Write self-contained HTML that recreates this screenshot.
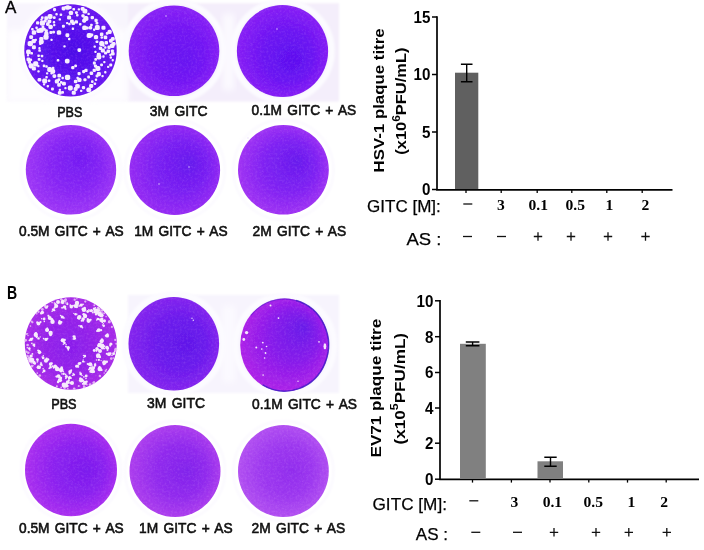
<!DOCTYPE html>
<html><head><meta charset="utf-8"><title>Plaque assay figure</title>
<style>
html,body{margin:0;padding:0;background:#fff;}
body{width:704px;height:550px;overflow:hidden;font-family:"Liberation Sans",sans-serif;}
svg{display:block;}
</style></head><body>
<svg width="704" height="550" viewBox="0 0 704 550">
<rect width="704" height="550" fill="#fff"/>
<g opacity="0.999">
<defs>
<radialGradient id="ga1" cx="50%" cy="50%" r="56%" fx="52%" fy="50%"><stop offset="0" stop-color="#4c0ee8"/><stop offset="0.5" stop-color="#5812ee"/><stop offset="1" stop-color="#6c1af0"/></radialGradient>
<radialGradient id="ga2" cx="50%" cy="50%" r="56%" fx="62%" fy="60%"><stop offset="0" stop-color="#6812f2"/><stop offset="0.5" stop-color="#7216f4"/><stop offset="1" stop-color="#8e26f6"/></radialGradient>
<radialGradient id="ga3" cx="50%" cy="50%" r="56%" fx="62%" fy="62%"><stop offset="0" stop-color="#5c10f0"/><stop offset="0.5" stop-color="#6c14f3"/><stop offset="1" stop-color="#8e24f6"/></radialGradient>
<radialGradient id="ga4" cx="50%" cy="50%" r="56%" fx="62%" fy="36%"><stop offset="0" stop-color="#741cf3"/><stop offset="0.5" stop-color="#8626f5"/><stop offset="1" stop-color="#a43cf7"/></radialGradient>
<radialGradient id="ga5" cx="50%" cy="50%" r="56%" fx="68%" fy="42%"><stop offset="0" stop-color="#661cee"/><stop offset="0.5" stop-color="#7a20f3"/><stop offset="1" stop-color="#9c30f4"/></radialGradient>
<radialGradient id="ga6" cx="50%" cy="50%" r="56%" fx="66%" fy="40%"><stop offset="0" stop-color="#681cee"/><stop offset="0.5" stop-color="#7e22f3"/><stop offset="1" stop-color="#a838f4"/></radialGradient>
<radialGradient id="gb1" cx="50%" cy="50%" r="56%" fx="50%" fy="55%"><stop offset="0" stop-color="#8a1eec"/><stop offset="0.5" stop-color="#9624ea"/><stop offset="1" stop-color="#ae30e8"/></radialGradient>
<radialGradient id="gb2" cx="50%" cy="50%" r="56%" fx="66%" fy="50%"><stop offset="0" stop-color="#6018ea"/><stop offset="0.5" stop-color="#6c1ced"/><stop offset="1" stop-color="#8a28ef"/></radialGradient>
<radialGradient id="gb3" cx="50%" cy="50%" r="56%" fx="72%" fy="30%"><stop offset="0" stop-color="#681aea"/><stop offset="0.5" stop-color="#881ceb"/><stop offset="1" stop-color="#b624e8"/></radialGradient>
<radialGradient id="gb4" cx="50%" cy="50%" r="56%" fx="68%" fy="50%"><stop offset="0" stop-color="#7c1cee"/><stop offset="0.5" stop-color="#8c22f0"/><stop offset="1" stop-color="#b234f0"/></radialGradient>
<radialGradient id="gb5" cx="50%" cy="50%" r="56%" fx="64%" fy="50%"><stop offset="0" stop-color="#8224ec"/><stop offset="0.5" stop-color="#922cee"/><stop offset="1" stop-color="#b444ee"/></radialGradient>
<radialGradient id="gb6" cx="50%" cy="50%" r="56%" fx="60%" fy="50%"><stop offset="0" stop-color="#922eee"/><stop offset="0.5" stop-color="#9e3af0"/><stop offset="1" stop-color="#b858f2"/></radialGradient>
<filter id="blur04" x="-10%" y="-10%" width="120%" height="120%"><feGaussianBlur stdDeviation="0.45"/></filter>
<filter id="blur06" x="-20%" y="-20%" width="140%" height="140%"><feGaussianBlur stdDeviation="0.55"/></filter>
<filter id="blur1" x="-20%" y="-20%" width="140%" height="140%"><feGaussianBlur stdDeviation="1.2"/></filter>
<filter id="blur3" x="-20%" y="-20%" width="140%" height="140%"><feGaussianBlur stdDeviation="3"/></filter>
<filter id="grain" x="0" y="0" width="100%" height="100%"><feTurbulence type="fractalNoise" baseFrequency="0.45" numOctaves="3" seed="7" result="n"/><feColorMatrix in="n" type="matrix" values="0 0 0 0 0.95  0 0 0 0 0.6  0 0 0 0 1  0 0 0 1.3 -0.55"/></filter>
<filter id="grainD" x="0" y="0" width="100%" height="100%"><feTurbulence type="fractalNoise" baseFrequency="0.4" numOctaves="3" seed="11" result="n"/><feColorMatrix in="n" type="matrix" values="0 0 0 0 0.2  0 0 0 0 0  0 0 0 0 0.75  0 0 0 1.4 -0.6"/></filter>
<clipPath id="wellclip">
<ellipse cx="70.5" cy="50.4" rx="45.900000000000006" ry="45.900000000000006"/>
<ellipse cx="174.0" cy="50.8" rx="45.0" ry="45.0"/>
<ellipse cx="282.5" cy="51.0" rx="45.300000000000004" ry="45.7"/>
<ellipse cx="71.0" cy="169.8" rx="44.900000000000006" ry="44.5"/>
<ellipse cx="174.8" cy="170.0" rx="45.0" ry="44.7"/>
<ellipse cx="283.4" cy="169.8" rx="45.1" ry="44.5"/>
<ellipse cx="70.8" cy="343.5" rx="45.7" ry="46.0"/>
<ellipse cx="173.8" cy="343.7" rx="45.0" ry="46.5"/>
<ellipse cx="284.6" cy="345.0" rx="44.1" ry="46.300000000000004"/>
<ellipse cx="71.0" cy="470.0" rx="45.7" ry="45.900000000000006"/>
<ellipse cx="175.0" cy="471.0" rx="45.2" ry="45.7"/>
<ellipse cx="283.4" cy="471.0" rx="45.1" ry="45.7"/>
</clipPath>
</defs>
<g filter="url(#blur1)">
<rect x="7" y="3.2" width="121" height="98" fill="#f8f5fd"/>
<rect x="128" y="3.2" width="211" height="98.3" fill="#f4eefb"/>
<rect x="128" y="295" width="211" height="98" fill="#f7f4fd"/>
</g>
<circle cx="70.5" cy="52" r="51" fill="#fefdff" filter="url(#blur3)"/>
<rect x="7" y="30" width="121" height="72" fill="#fefdff" filter="url(#blur3)"/>
<circle cx="174" cy="50.8" r="49.3" fill="none" stroke="#fcfbff" stroke-width="6" filter="url(#blur1)"/>
<circle cx="282.5" cy="51" r="49.3" fill="none" stroke="#fcfbff" stroke-width="6" filter="url(#blur1)"/>
<circle cx="173.8" cy="343.4" r="49.3" fill="none" stroke="#fcfbff" stroke-width="6" filter="url(#blur1)"/>
<circle cx="284.8" cy="345" r="49.3" fill="none" stroke="#fcfbff" stroke-width="6" filter="url(#blur1)"/>
<rect x="223" y="14" width="11" height="76" fill="#fcfaff" filter="url(#blur3)"/>
<rect x="223" y="306" width="12" height="76" fill="#fcfaff" filter="url(#blur3)"/>
<circle cx="70.5" cy="50.4" r="50" fill="none" stroke="#fbf9fe" stroke-width="2.5" filter="url(#blur1)"/>
<circle cx="71" cy="169.8" r="50" fill="none" stroke="#fbf9fe" stroke-width="2.5" filter="url(#blur1)"/>
<circle cx="174.8" cy="170" r="50" fill="none" stroke="#fbf9fe" stroke-width="2.5" filter="url(#blur1)"/>
<circle cx="283.4" cy="169.8" r="50" fill="none" stroke="#fbf9fe" stroke-width="2.5" filter="url(#blur1)"/>
<circle cx="71" cy="470" r="50" fill="none" stroke="#fbf9fe" stroke-width="2.5" filter="url(#blur1)"/>
<circle cx="175" cy="471" r="50" fill="none" stroke="#fbf9fe" stroke-width="2.5" filter="url(#blur1)"/>
<circle cx="283.4" cy="471" r="50" fill="none" stroke="#fbf9fe" stroke-width="2.5" filter="url(#blur1)"/>
<g filter="url(#blur04)">
<ellipse cx="70.5" cy="50.4" rx="46.2" ry="46.2" fill="url(#ga1)"/>
<ellipse cx="174.0" cy="50.8" rx="45.3" ry="45.3" fill="url(#ga2)"/>
<ellipse cx="282.5" cy="51.0" rx="45.6" ry="46.0" fill="url(#ga3)"/>
<ellipse cx="71.0" cy="169.8" rx="45.2" ry="44.8" fill="url(#ga4)"/>
<ellipse cx="174.8" cy="170.0" rx="45.3" ry="45.0" fill="url(#ga5)"/>
<ellipse cx="283.4" cy="169.8" rx="45.4" ry="44.8" fill="url(#ga6)"/>
<ellipse cx="70.8" cy="343.5" rx="46.0" ry="46.3" fill="url(#gb1)"/>
<ellipse cx="173.8" cy="343.7" rx="45.3" ry="46.8" fill="url(#gb2)"/>
<ellipse cx="284.6" cy="345.0" rx="44.4" ry="46.6" fill="url(#gb3)"/>
<ellipse cx="71.0" cy="470.0" rx="46.0" ry="46.2" fill="url(#gb4)"/>
<ellipse cx="175.0" cy="471.0" rx="45.5" ry="46.0" fill="url(#gb5)"/>
<ellipse cx="283.4" cy="471.0" rx="45.4" ry="46.0" fill="url(#gb6)"/>
<path d="M295.96 300.47 A43.9 46.1 0 1 1 262.65 384.92" fill="none" stroke="#3a1cc4" stroke-width="1.5" opacity="0.8"/>
<path d="M295.96 300.47 A43.9 46.1 0 0 0 250.97 315.37" fill="none" stroke="#4a1ccc" stroke-width="1.1" opacity="0.5"/>
</g>
<g clip-path="url(#wellclip)"><rect x="20" y="0" width="315" height="525" filter="url(#grain)" opacity="0.2"/><rect x="20" y="0" width="315" height="525" filter="url(#grainD)" opacity="0.16"/></g>
<g fill="#f6eefe" filter="url(#blur06)">
<rect x="61.6" y="6.4" width="4.0" height="4.0" rx="1.4"/>
<rect x="68.5" y="5.9" width="3.1" height="3.1" rx="1.1"/>
<rect x="72.4" y="7.9" width="2.7" height="2.7" rx="0.9"/>
<rect x="68.8" y="10.8" width="4.3" height="4.3" rx="1.5"/>
<rect x="82.5" y="8.7" width="4.9" height="4.9" rx="1.7"/>
<rect x="87.4" y="12.7" width="2.4" height="2.4" rx="0.9"/>
<rect x="81.4" y="14.2" width="3.2" height="3.2" rx="1.1"/>
<rect x="90.6" y="15.9" width="3.4" height="3.4" rx="1.2"/>
<rect x="94.4" y="18.8" width="3.3" height="3.3" rx="1.1"/>
<rect x="52.9" y="16.2" width="2.8" height="2.8" rx="1.0"/>
<rect x="58.6" y="18.2" width="2.4" height="2.4" rx="0.9"/>
<rect x="46.0" y="22.3" width="3.6" height="3.6" rx="1.3"/>
<rect x="48.4" y="24.7" width="4.4" height="4.4" rx="1.6"/>
<rect x="53.1" y="23.9" width="2.3" height="2.3" rx="0.8"/>
<rect x="41.0" y="16.3" width="2.6" height="2.6" rx="0.9"/>
<rect x="36.3" y="28.4" width="4.5" height="4.5" rx="1.6"/>
<rect x="31.7" y="30.3" width="4.4" height="4.4" rx="1.5"/>
<rect x="29.2" y="35.2" width="3.9" height="3.9" rx="1.3"/>
<rect x="34.6" y="38.7" width="2.3" height="2.3" rx="0.8"/>
<rect x="39.3" y="36.9" width="4.1" height="4.1" rx="1.4"/>
<rect x="43.4" y="34.5" width="5.2" height="5.2" rx="1.8"/>
<rect x="27.6" y="40.9" width="5.3" height="5.3" rx="1.9"/>
<rect x="31.9" y="45.3" width="4.0" height="4.0" rx="1.4"/>
<rect x="38.3" y="47.1" width="2.3" height="2.3" rx="0.8"/>
<rect x="26.1" y="49.6" width="4.6" height="4.6" rx="1.6"/>
<rect x="37.3" y="54.4" width="2.6" height="2.6" rx="0.9"/>
<rect x="26.5" y="57.5" width="3.8" height="3.8" rx="1.3"/>
<rect x="28.6" y="63.3" width="5.1" height="5.1" rx="1.8"/>
<rect x="31.9" y="66.6" width="4.0" height="4.0" rx="1.4"/>
<rect x="37.3" y="70.2" width="2.4" height="2.4" rx="0.8"/>
<rect x="42.7" y="64.5" width="2.7" height="2.7" rx="1.0"/>
<rect x="47.2" y="67.1" width="4.9" height="4.9" rx="1.7"/>
<rect x="50.3" y="72.0" width="2.4" height="2.4" rx="0.9"/>
<rect x="52.5" y="74.2" width="3.7" height="3.7" rx="1.3"/>
<rect x="57.4" y="78.2" width="3.0" height="3.0" rx="1.1"/>
<rect x="61.4" y="76.7" width="2.5" height="2.5" rx="0.9"/>
<rect x="37.6" y="77.9" width="3.7" height="3.7" rx="1.3"/>
<rect x="42.9" y="83.2" width="2.3" height="2.3" rx="0.8"/>
<rect x="46.6" y="85.0" width="2.4" height="2.4" rx="0.8"/>
<rect x="51.0" y="87.6" width="2.9" height="2.9" rx="1.0"/>
<rect x="58.7" y="88.8" width="2.3" height="2.3" rx="0.8"/>
<rect x="64.3" y="86.9" width="2.3" height="2.3" rx="0.8"/>
<rect x="73.9" y="79.8" width="3.5" height="3.5" rx="1.2"/>
<rect x="77.3" y="77.7" width="4.2" height="4.2" rx="1.5"/>
<rect x="75.1" y="83.9" width="4.7" height="4.7" rx="1.7"/>
<rect x="80.0" y="89.7" width="2.4" height="2.4" rx="0.8"/>
<rect x="83.4" y="78.2" width="3.1" height="3.1" rx="1.1"/>
<rect x="87.2" y="75.6" width="2.8" height="2.8" rx="1.0"/>
<rect x="89.6" y="71.4" width="3.6" height="3.6" rx="1.3"/>
<rect x="92.6" y="68.8" width="3.3" height="3.3" rx="1.1"/>
<rect x="95.4" y="66.1" width="5.0" height="5.0" rx="1.8"/>
<rect x="100.1" y="63.4" width="2.9" height="2.9" rx="1.0"/>
<rect x="103.2" y="61.0" width="2.3" height="2.3" rx="0.8"/>
<rect x="96.8" y="52.7" width="4.0" height="4.0" rx="1.4"/>
<rect x="109.6" y="56.3" width="2.4" height="2.4" rx="0.9"/>
<rect x="110.9" y="51.9" width="3.7" height="3.7" rx="1.3"/>
<rect x="107.4" y="45.6" width="3.3" height="3.3" rx="1.2"/>
<rect x="99.2" y="41.1" width="4.9" height="4.9" rx="1.7"/>
<rect x="104.5" y="40.9" width="3.5" height="3.5" rx="1.2"/>
<rect x="109.0" y="39.0" width="3.7" height="3.7" rx="1.3"/>
<rect x="95.6" y="40.4" width="2.7" height="2.7" rx="0.9"/>
<rect x="99.9" y="32.6" width="3.5" height="3.5" rx="1.2"/>
<rect x="105.8" y="32.1" width="2.6" height="2.6" rx="0.9"/>
<rect x="93.9" y="35.0" width="4.2" height="4.2" rx="1.5"/>
<rect x="88.8" y="26.1" width="3.3" height="3.3" rx="1.2"/>
<rect x="93.0" y="28.5" width="2.4" height="2.4" rx="0.8"/>
<rect x="90.1" y="23.7" width="2.6" height="2.6" rx="0.9"/>
<rect x="95.5" y="21.7" width="2.9" height="2.9" rx="1.0"/>
<rect x="101.4" y="25.7" width="4.1" height="4.1" rx="1.4"/>
<rect x="79.0" y="22.9" width="2.5" height="2.5" rx="0.9"/>
<rect x="67.1" y="15.6" width="4.0" height="4.0" rx="1.4"/>
<rect x="70.0" y="19.4" width="3.8" height="3.8" rx="1.3"/>
<rect x="71.7" y="27.6" width="2.4" height="2.4" rx="0.8"/>
<rect x="65.4" y="33.3" width="3.9" height="3.9" rx="1.4"/>
<rect x="68.0" y="37.8" width="2.4" height="2.4" rx="0.8"/>
<rect x="63.3" y="45.2" width="2.4" height="2.4" rx="0.8"/>
<rect x="77.5" y="48.3" width="3.6" height="3.6" rx="1.3"/>
<rect x="56.7" y="59.0" width="2.6" height="2.6" rx="0.9"/>
<rect x="64.9" y="58.8" width="4.7" height="4.7" rx="1.7"/>
<rect x="71.2" y="66.1" width="3.2" height="3.2" rx="1.1"/>
<rect x="74.2" y="64.4" width="2.8" height="2.8" rx="1.0"/>
<rect x="56.8" y="30.3" width="4.4" height="4.4" rx="1.5"/>
<rect x="50.4" y="38.7" width="2.3" height="2.3" rx="0.8"/>
<rect x="96.8" y="72.1" width="4.1" height="4.1" rx="1.4"/>
<rect x="101.4" y="74.9" width="2.3" height="2.3" rx="0.8"/>
<rect x="104.1" y="71.1" width="2.4" height="2.4" rx="0.9"/>
<rect x="83.3" y="16.0" width="5.1" height="5.1" rx="1.8"/>
<rect x="73.7" y="87.1" width="3.9" height="3.9" rx="1.4"/>
<rect x="91.0" y="80.3" width="2.6" height="2.6" rx="0.9"/>
<rect x="94.8" y="78.5" width="2.4" height="2.4" rx="0.8"/>
<rect x="39.8" y="20.5" width="5.2" height="5.2" rx="1.8"/>
<rect x="80.7" y="6.9" width="3.9" height="3.9" rx="1.4"/>
<rect x="65.5" y="5.3" width="4.5" height="4.5" rx="1.6"/>
<rect x="102.3" y="55.3" width="2.4" height="2.4" rx="0.9"/>
<rect x="103.6" y="35.5" width="3.7" height="3.7" rx="1.3"/>
<rect x="90.4" y="33.6" width="2.9" height="2.9" rx="1.0"/>
<rect x="40.7" y="54.7" width="2.6" height="2.6" rx="0.9"/>
<rect x="61.2" y="91.0" width="2.8" height="2.8" rx="1.0"/>
<rect x="71.4" y="21.4" width="3.7" height="3.7" rx="1.3"/>
<rect x="49.4" y="31.1" width="2.9" height="2.9" rx="1.0"/>
<rect x="110.9" y="49.4" width="3.0" height="3.0" rx="1.0"/>
<rect x="76.4" y="76.7" width="2.4" height="2.4" rx="0.8"/>
<rect x="109.9" y="43.5" width="4.5" height="4.5" rx="1.6"/>
<rect x="57.9" y="90.9" width="3.8" height="3.8" rx="1.3"/>
<rect x="31.5" y="38.9" width="4.4" height="4.4" rx="1.5"/>
<rect x="53.0" y="8.1" width="3.1" height="3.1" rx="1.1"/>
<rect x="50.6" y="69.1" width="4.6" height="4.6" rx="1.6"/>
<rect x="84.3" y="68.8" width="3.3" height="3.3" rx="1.2"/>
<rect x="57.2" y="83.1" width="3.6" height="3.6" rx="1.3"/>
<rect x="106.6" y="49.4" width="3.5" height="3.5" rx="1.2"/>
<rect x="54.8" y="79.3" width="4.2" height="4.2" rx="1.5"/>
<rect x="61.9" y="24.8" width="3.0" height="3.0" rx="1.0"/>
<rect x="93.5" y="45.4" width="2.4" height="2.4" rx="0.8"/>
<rect x="109.2" y="53.8" width="2.3" height="2.3" rx="0.8"/>
<rect x="45.3" y="75.9" width="2.5" height="2.5" rx="0.9"/>
<rect x="94.3" y="50.7" width="2.3" height="2.3" rx="0.8"/>
<rect x="86.4" y="87.5" width="4.8" height="4.8" rx="1.7"/>
<rect x="81.9" y="86.1" width="3.2" height="3.2" rx="1.1"/>
<rect x="107.5" y="29.8" width="4.2" height="4.2" rx="1.5"/>
<rect x="111.6" y="59.1" width="2.3" height="2.3" rx="0.8"/>
<rect x="36.0" y="21.3" width="3.2" height="3.2" rx="1.1"/>
<rect x="38.9" y="39.5" width="4.8" height="4.8" rx="1.7"/>
<rect x="57.4" y="73.8" width="3.7" height="3.7" rx="1.3"/>
<rect x="92.8" y="61.6" width="3.1" height="3.1" rx="1.1"/>
<rect x="82.1" y="70.0" width="3.2" height="3.2" rx="1.1"/>
<rect x="104.1" y="46.3" width="2.4" height="2.4" rx="0.8"/>
<rect x="45.3" y="65.3" width="2.5" height="2.5" rx="0.9"/>
<rect x="35.3" y="26.4" width="2.5" height="2.5" rx="0.9"/>
<rect x="37.7" y="57.9" width="2.9" height="2.9" rx="1.0"/>
<rect x="109.2" y="63.6" width="3.0" height="3.0" rx="1.0"/>
<rect x="82.2" y="25.4" width="4.7" height="4.7" rx="1.7"/>
<rect x="64.3" y="6.0" width="2.4" height="2.4" rx="0.9"/>
<rect x="93.6" y="82.4" width="2.6" height="2.6" rx="0.9"/>
<rect x="59.9" y="81.0" width="2.7" height="2.7" rx="0.9"/>
<rect x="102.2" y="44.2" width="2.5" height="2.5" rx="0.9"/>
<rect x="30.3" y="51.9" width="2.7" height="2.7" rx="0.9"/>
<rect x="38.3" y="49.2" width="2.6" height="2.6" rx="0.9"/>
<rect x="93.9" y="64.5" width="3.2" height="3.2" rx="1.1"/>
<rect x="77.7" y="8.3" width="2.3" height="2.3" rx="0.8"/>
<rect x="42.2" y="78.6" width="4.9" height="4.9" rx="1.7"/>
<rect x="75.0" y="11.2" width="2.9" height="2.9" rx="1.0"/>
<rect x="47.6" y="14.0" width="5.0" height="5.0" rx="1.8"/>
<rect x="62.0" y="81.7" width="3.9" height="3.9" rx="1.4"/>
<rect x="47.4" y="19.4" width="3.9" height="3.9" rx="1.4"/>
<rect x="104.0" y="51.4" width="3.2" height="3.2" rx="1.1"/>
<rect x="67.8" y="85.6" width="5.0" height="5.0" rx="1.8"/>
<rect x="29.7" y="58.6" width="2.4" height="2.4" rx="0.8"/>
<rect x="44.3" y="16.2" width="3.9" height="3.9" rx="1.4"/>
<rect x="47.7" y="79.4" width="2.7" height="2.7" rx="1.0"/>
<rect x="111.7" y="41.9" width="3.9" height="3.9" rx="1.4"/>
<rect x="89.1" y="83.9" width="4.1" height="4.1" rx="1.4"/>
<rect x="100.5" y="36.2" width="2.5" height="2.5" rx="0.9"/>
<rect x="55.3" y="13.0" width="2.5" height="2.5" rx="0.9"/>
<rect x="66.0" y="21.9" width="2.3" height="2.3" rx="0.8"/>
<rect x="76.0" y="13.9" width="2.6" height="2.6" rx="0.9"/>
<rect x="52.8" y="21.1" width="2.4" height="2.4" rx="0.8"/>
<rect x="43.7" y="19.5" width="3.0" height="3.0" rx="1.0"/>
<rect x="33.1" y="61.3" width="5.2" height="5.2" rx="1.8"/>
<rect x="52.1" y="30.7" width="2.9" height="2.9" rx="1.0"/>
<rect x="94.3" y="57.9" width="2.8" height="2.8" rx="1.0"/>
<rect x="77.5" y="72.0" width="3.2" height="3.2" rx="1.1"/>
<rect x="41.6" y="25.7" width="2.7" height="2.7" rx="0.9"/>
<rect x="71.7" y="90.7" width="4.1" height="4.1" rx="1.4"/>
<rect x="100.8" y="48.5" width="4.1" height="4.1" rx="1.4"/>
<rect x="51.9" y="66.8" width="2.5" height="2.5" rx="0.9"/>
<rect x="31.1" y="27.9" width="2.6" height="2.6" rx="0.9"/>
<rect x="82.2" y="18.8" width="3.9" height="3.9" rx="1.4"/>
<rect x="38.7" y="27.7" width="5.0" height="5.0" rx="1.8"/>
<rect x="110.9" y="36.9" width="3.8" height="3.8" rx="1.3"/>
<rect x="44.7" y="29.2" width="3.1" height="3.1" rx="1.1"/>
<rect x="86.7" y="32.9" width="5.2" height="5.2" rx="1.8"/>
<rect x="40.3" y="18.5" width="2.3" height="2.3" rx="0.8"/>
<rect x="46.0" y="72.3" width="2.3" height="2.3" rx="0.8"/>
<rect x="44.2" y="31.6" width="4.3" height="4.3" rx="1.5"/>
<rect x="95.5" y="74.4" width="3.0" height="3.0" rx="1.1"/>
<rect x="41.2" y="59.7" width="2.3" height="2.3" rx="0.8"/>
<rect x="74.6" y="20.2" width="3.4" height="3.4" rx="1.2"/>
<rect x="64.9" y="74.8" width="5.3" height="5.3" rx="1.8"/>
<rect x="98.8" y="46.6" width="3.4" height="3.4" rx="1.2"/>
<rect x="42.8" y="27.8" width="2.9" height="2.9" rx="1.0"/>
<rect x="68.2" y="22.8" width="2.4" height="2.4" rx="0.8"/>
<rect x="39.1" y="42.8" width="2.3" height="2.3" rx="0.8"/>
<rect x="96.5" y="54.6" width="4.8" height="4.8" rx="1.7"/>
<rect x="27.7" y="60.5" width="3.3" height="3.3" rx="1.1"/>
<rect x="94.8" y="25.1" width="5.0" height="5.0" rx="1.7"/>
<rect x="37.2" y="64.9" width="2.3" height="2.3" rx="0.8"/>
<rect x="59.6" y="13.4" width="2.6" height="2.6" rx="0.9"/>
<rect x="26.9" y="54.1" width="2.3" height="2.3" rx="0.8"/>
<rect x="85.8" y="26.4" width="3.0" height="3.0" rx="1.0"/>
<rect x="107.0" y="65.8" width="2.3" height="2.3" rx="0.8"/>
</g>
<g fill="#f6ebfb" filter="url(#blur06)">
<circle cx="62.7" cy="301.3" r="1.85"/>
<circle cx="62.9" cy="303.2" r="1.02"/>
<circle cx="61.5" cy="302.7" r="1.02"/>
<circle cx="67.3" cy="304.1" r="1.16"/>
<circle cx="65.2" cy="302.9" r="0.64"/>
<circle cx="67.1" cy="302.7" r="0.64"/>
<circle cx="64.5" cy="306.9" r="1.76"/>
<circle cx="65.6" cy="308.9" r="0.97"/>
<circle cx="62.1" cy="307.7" r="0.97"/>
<circle cx="75.6" cy="306.0" r="2.06"/>
<circle cx="76.9" cy="307.1" r="1.14"/>
<circle cx="77.3" cy="305.0" r="1.14"/>
<circle cx="81.2" cy="305.1" r="1.65"/>
<circle cx="79.1" cy="305.9" r="0.91"/>
<circle cx="83.0" cy="304.3" r="0.91"/>
<circle cx="84.0" cy="309.7" r="2.27"/>
<circle cx="82.8" cy="308.9" r="1.25"/>
<circle cx="84.7" cy="308.0" r="1.25"/>
<circle cx="75.6" cy="314.3" r="1.21"/>
<circle cx="77.0" cy="314.1" r="0.67"/>
<circle cx="73.9" cy="313.4" r="0.67"/>
<circle cx="79.3" cy="317.1" r="2.16"/>
<circle cx="78.1" cy="318.1" r="1.19"/>
<circle cx="79.1" cy="318.6" r="1.19"/>
<circle cx="83.1" cy="319.0" r="1.80"/>
<circle cx="81.6" cy="320.7" r="0.99"/>
<circle cx="83.1" cy="320.7" r="0.99"/>
<circle cx="87.7" cy="311.5" r="1.44"/>
<circle cx="90.1" cy="311.3" r="0.79"/>
<circle cx="88.9" cy="309.8" r="0.79"/>
<circle cx="91.4" cy="310.6" r="1.61"/>
<circle cx="92.9" cy="312.5" r="0.89"/>
<circle cx="90.1" cy="310.7" r="0.89"/>
<circle cx="94.2" cy="308.8" r="1.34"/>
<circle cx="96.0" cy="310.1" r="0.74"/>
<circle cx="95.4" cy="307.8" r="0.74"/>
<circle cx="97.0" cy="312.5" r="2.07"/>
<circle cx="96.0" cy="314.4" r="1.14"/>
<circle cx="98.3" cy="310.9" r="1.14"/>
<circle cx="101.6" cy="315.3" r="2.07"/>
<circle cx="100.7" cy="316.2" r="1.14"/>
<circle cx="99.5" cy="315.1" r="1.14"/>
<circle cx="97.9" cy="319.0" r="1.36"/>
<circle cx="96.6" cy="320.1" r="0.75"/>
<circle cx="99.6" cy="319.3" r="0.75"/>
<circle cx="104.4" cy="320.8" r="1.59"/>
<circle cx="102.2" cy="321.2" r="0.87"/>
<circle cx="102.3" cy="322.3" r="0.87"/>
<circle cx="88.6" cy="320.8" r="2.09"/>
<circle cx="90.6" cy="319.8" r="1.15"/>
<circle cx="87.7" cy="319.1" r="1.15"/>
<circle cx="56.2" cy="306.0" r="2.07"/>
<circle cx="54.8" cy="307.6" r="1.14"/>
<circle cx="55.3" cy="304.2" r="1.14"/>
<circle cx="53.4" cy="309.7" r="1.48"/>
<circle cx="54.6" cy="310.4" r="0.81"/>
<circle cx="52.1" cy="311.3" r="0.81"/>
<circle cx="59.9" cy="322.7" r="2.02"/>
<circle cx="59.5" cy="321.0" r="1.11"/>
<circle cx="61.4" cy="322.0" r="1.11"/>
<circle cx="49.7" cy="318.0" r="1.97"/>
<circle cx="51.7" cy="319.0" r="1.09"/>
<circle cx="48.4" cy="315.8" r="1.09"/>
<circle cx="52.5" cy="321.7" r="2.18"/>
<circle cx="51.5" cy="319.5" r="1.20"/>
<circle cx="52.3" cy="319.7" r="1.20"/>
<circle cx="44.1" cy="319.0" r="1.39"/>
<circle cx="41.7" cy="318.7" r="0.76"/>
<circle cx="44.3" cy="321.5" r="0.76"/>
<circle cx="42.3" cy="312.5" r="1.78"/>
<circle cx="41.2" cy="313.3" r="0.98"/>
<circle cx="41.1" cy="313.4" r="0.98"/>
<circle cx="38.5" cy="323.6" r="1.90"/>
<circle cx="40.5" cy="322.1" r="1.05"/>
<circle cx="37.2" cy="322.4" r="1.05"/>
<circle cx="47.8" cy="330.1" r="1.28"/>
<circle cx="47.1" cy="328.2" r="0.70"/>
<circle cx="47.4" cy="328.3" r="0.70"/>
<circle cx="50.6" cy="332.9" r="2.17"/>
<circle cx="51.0" cy="334.5" r="1.19"/>
<circle cx="50.4" cy="335.0" r="1.19"/>
<circle cx="35.8" cy="334.7" r="2.18"/>
<circle cx="36.8" cy="336.6" r="1.20"/>
<circle cx="35.9" cy="333.1" r="1.20"/>
<circle cx="38.5" cy="338.4" r="1.22"/>
<circle cx="36.4" cy="337.5" r="0.67"/>
<circle cx="40.2" cy="336.9" r="0.67"/>
<circle cx="31.1" cy="339.4" r="1.63"/>
<circle cx="29.4" cy="340.3" r="0.90"/>
<circle cx="32.5" cy="338.4" r="0.90"/>
<circle cx="33.9" cy="344.9" r="1.47"/>
<circle cx="31.9" cy="343.4" r="0.81"/>
<circle cx="34.4" cy="346.2" r="0.81"/>
<circle cx="29.3" cy="348.6" r="1.28"/>
<circle cx="27.3" cy="347.8" r="0.71"/>
<circle cx="29.9" cy="350.1" r="0.71"/>
<circle cx="39.5" cy="352.3" r="1.83"/>
<circle cx="38.1" cy="350.6" r="1.01"/>
<circle cx="39.3" cy="351.0" r="1.01"/>
<circle cx="31.1" cy="356.1" r="1.71"/>
<circle cx="32.4" cy="353.9" r="0.94"/>
<circle cx="30.1" cy="358.2" r="0.94"/>
<circle cx="30.2" cy="360.7" r="1.89"/>
<circle cx="31.6" cy="360.0" r="1.04"/>
<circle cx="29.4" cy="358.4" r="1.04"/>
<circle cx="33.9" cy="362.5" r="1.70"/>
<circle cx="35.2" cy="363.5" r="0.93"/>
<circle cx="34.7" cy="363.7" r="0.93"/>
<circle cx="43.2" cy="357.9" r="1.32"/>
<circle cx="42.1" cy="357.0" r="0.73"/>
<circle cx="43.3" cy="355.7" r="0.73"/>
<circle cx="46.0" cy="360.7" r="2.09"/>
<circle cx="46.7" cy="358.6" r="1.15"/>
<circle cx="48.2" cy="359.5" r="1.15"/>
<circle cx="38.5" cy="367.2" r="1.87"/>
<circle cx="39.9" cy="366.9" r="1.03"/>
<circle cx="39.7" cy="368.0" r="1.03"/>
<circle cx="44.1" cy="370.9" r="1.39"/>
<circle cx="42.8" cy="372.2" r="0.76"/>
<circle cx="43.1" cy="368.8" r="0.76"/>
<circle cx="50.6" cy="367.2" r="1.25"/>
<circle cx="49.0" cy="368.3" r="0.69"/>
<circle cx="49.6" cy="368.2" r="0.69"/>
<circle cx="55.2" cy="366.3" r="1.84"/>
<circle cx="53.7" cy="367.8" r="1.01"/>
<circle cx="52.7" cy="366.3" r="1.01"/>
<circle cx="57.1" cy="369.0" r="2.24"/>
<circle cx="59.1" cy="370.0" r="1.23"/>
<circle cx="56.8" cy="367.4" r="1.23"/>
<circle cx="63.6" cy="373.7" r="1.28"/>
<circle cx="61.8" cy="373.9" r="0.71"/>
<circle cx="63.4" cy="371.2" r="0.71"/>
<circle cx="66.4" cy="376.5" r="1.59"/>
<circle cx="65.9" cy="378.3" r="0.87"/>
<circle cx="65.6" cy="374.3" r="0.87"/>
<circle cx="70.1" cy="371.8" r="1.81"/>
<circle cx="69.6" cy="373.5" r="1.00"/>
<circle cx="71.2" cy="370.2" r="1.00"/>
<circle cx="73.8" cy="374.6" r="1.21"/>
<circle cx="72.4" cy="375.4" r="0.66"/>
<circle cx="73.1" cy="373.4" r="0.66"/>
<circle cx="76.6" cy="366.3" r="1.46"/>
<circle cx="78.1" cy="367.3" r="0.80"/>
<circle cx="78.6" cy="366.1" r="0.80"/>
<circle cx="79.3" cy="363.5" r="1.59"/>
<circle cx="80.6" cy="362.9" r="0.88"/>
<circle cx="77.9" cy="365.3" r="0.88"/>
<circle cx="83.1" cy="361.6" r="1.16"/>
<circle cx="83.2" cy="359.9" r="0.64"/>
<circle cx="84.7" cy="361.8" r="0.64"/>
<circle cx="90.5" cy="368.1" r="1.68"/>
<circle cx="89.0" cy="369.4" r="0.92"/>
<circle cx="92.0" cy="368.6" r="0.92"/>
<circle cx="92.3" cy="370.9" r="2.27"/>
<circle cx="90.5" cy="371.6" r="1.25"/>
<circle cx="93.8" cy="371.7" r="1.25"/>
<circle cx="81.2" cy="380.2" r="2.25"/>
<circle cx="80.4" cy="378.4" r="1.24"/>
<circle cx="82.9" cy="380.8" r="1.24"/>
<circle cx="84.9" cy="382.9" r="2.05"/>
<circle cx="83.0" cy="383.8" r="1.12"/>
<circle cx="86.7" cy="381.7" r="1.12"/>
<circle cx="66.4" cy="385.7" r="1.88"/>
<circle cx="67.7" cy="386.0" r="1.03"/>
<circle cx="66.6" cy="383.9" r="1.03"/>
<circle cx="59.9" cy="380.2" r="2.16"/>
<circle cx="61.0" cy="377.9" r="1.19"/>
<circle cx="58.0" cy="382.0" r="1.19"/>
<circle cx="101.6" cy="341.2" r="2.02"/>
<circle cx="102.8" cy="340.3" r="1.11"/>
<circle cx="102.0" cy="339.4" r="1.11"/>
<circle cx="99.7" cy="344.9" r="2.27"/>
<circle cx="101.3" cy="344.9" r="1.25"/>
<circle cx="98.3" cy="345.7" r="1.25"/>
<circle cx="97.0" cy="348.6" r="1.69"/>
<circle cx="96.5" cy="350.7" r="0.93"/>
<circle cx="98.1" cy="349.7" r="0.93"/>
<circle cx="102.5" cy="347.7" r="1.68"/>
<circle cx="104.1" cy="348.5" r="0.92"/>
<circle cx="104.5" cy="346.2" r="0.92"/>
<circle cx="94.2" cy="350.5" r="1.38"/>
<circle cx="96.5" cy="350.8" r="0.76"/>
<circle cx="96.2" cy="350.0" r="0.76"/>
<circle cx="73.8" cy="336.6" r="1.31"/>
<circle cx="74.0" cy="339.1" r="0.72"/>
<circle cx="75.0" cy="336.1" r="0.72"/>
<circle cx="74.7" cy="338.4" r="1.36"/>
<circle cx="73.2" cy="339.1" r="0.75"/>
<circle cx="74.7" cy="336.7" r="0.75"/>
<circle cx="62.7" cy="340.3" r="2.04"/>
<circle cx="63.8" cy="341.9" r="1.12"/>
<circle cx="64.8" cy="339.9" r="1.12"/>
<circle cx="64.5" cy="343.1" r="1.25"/>
<circle cx="66.1" cy="344.4" r="0.69"/>
<circle cx="63.3" cy="344.3" r="0.69"/>
<circle cx="68.2" cy="347.7" r="1.70"/>
<circle cx="66.0" cy="346.5" r="0.93"/>
<circle cx="68.3" cy="349.7" r="0.93"/>
<circle cx="81.2" cy="326.4" r="1.45"/>
<circle cx="79.0" cy="325.8" r="0.80"/>
<circle cx="82.5" cy="327.8" r="0.80"/>
<circle cx="98.8" cy="330.1" r="1.96"/>
<circle cx="101.1" cy="330.2" r="1.08"/>
<circle cx="97.1" cy="331.0" r="1.08"/>
<circle cx="107.2" cy="335.7" r="1.85"/>
<circle cx="107.5" cy="334.3" r="1.02"/>
<circle cx="105.8" cy="335.7" r="1.02"/>
<circle cx="110.9" cy="344.0" r="1.59"/>
<circle cx="110.1" cy="345.1" r="0.88"/>
<circle cx="110.3" cy="345.8" r="0.88"/>
<circle cx="109.0" cy="354.2" r="1.90"/>
<circle cx="110.6" cy="353.4" r="1.05"/>
<circle cx="106.8" cy="353.8" r="1.05"/>
<circle cx="104.4" cy="362.5" r="2.23"/>
<circle cx="106.8" cy="361.7" r="1.23"/>
<circle cx="103.9" cy="364.0" r="1.23"/>
<circle cx="99.7" cy="369.0" r="2.22"/>
<circle cx="101.4" cy="369.9" r="1.22"/>
<circle cx="99.6" cy="367.1" r="1.22"/>
<circle cx="46.0" cy="339.4" r="1.60"/>
<circle cx="47.5" cy="338.6" r="0.88"/>
<circle cx="43.7" cy="338.6" r="0.88"/>
<circle cx="84.9" cy="356.1" r="1.31"/>
<circle cx="83.8" cy="357.6" r="0.72"/>
<circle cx="83.5" cy="355.4" r="0.72"/>
<circle cx="69.6" cy="377.6" r="1.67"/>
<circle cx="71.0" cy="378.1" r="0.92"/>
<circle cx="68.8" cy="378.9" r="0.92"/>
<circle cx="61.2" cy="369.7" r="2.26"/>
<circle cx="61.1" cy="371.3" r="1.24"/>
<circle cx="61.7" cy="367.5" r="1.24"/>
<circle cx="113.6" cy="353.8" r="1.45"/>
<circle cx="114.6" cy="351.9" r="0.80"/>
<circle cx="112.0" cy="355.2" r="0.80"/>
<circle cx="86.2" cy="375.9" r="1.43"/>
<circle cx="86.0" cy="378.4" r="0.79"/>
<circle cx="83.9" cy="376.9" r="0.79"/>
<circle cx="41.1" cy="364.4" r="1.35"/>
<circle cx="42.0" cy="365.4" r="0.74"/>
<circle cx="41.0" cy="362.4" r="0.74"/>
<circle cx="98.8" cy="359.9" r="1.16"/>
<circle cx="101.1" cy="360.6" r="0.64"/>
<circle cx="96.4" cy="360.0" r="0.64"/>
<circle cx="103.8" cy="325.7" r="1.20"/>
<circle cx="102.5" cy="325.0" r="0.66"/>
<circle cx="103.4" cy="323.7" r="0.66"/>
<circle cx="107.0" cy="347.5" r="1.85"/>
<circle cx="107.5" cy="350.0" r="1.02"/>
<circle cx="108.1" cy="348.4" r="1.02"/>
<circle cx="58.5" cy="376.1" r="1.94"/>
<circle cx="59.6" cy="376.9" r="1.07"/>
<circle cx="56.4" cy="376.6" r="1.07"/>
<circle cx="85.1" cy="316.1" r="2.18"/>
<circle cx="84.8" cy="314.7" r="1.20"/>
<circle cx="83.6" cy="314.2" r="1.20"/>
<circle cx="95.1" cy="365.1" r="1.29"/>
<circle cx="95.1" cy="363.4" r="0.71"/>
<circle cx="94.7" cy="366.3" r="0.71"/>
<circle cx="90.3" cy="364.2" r="2.02"/>
<circle cx="87.8" cy="364.0" r="1.11"/>
<circle cx="88.8" cy="364.5" r="1.11"/>
<circle cx="37.4" cy="359.6" r="1.40"/>
<circle cx="37.2" cy="362.1" r="0.77"/>
<circle cx="37.8" cy="360.9" r="0.77"/>
<circle cx="62.3" cy="317.0" r="1.56"/>
<circle cx="63.9" cy="317.9" r="0.86"/>
<circle cx="60.7" cy="315.5" r="0.86"/>
<circle cx="80.7" cy="373.9" r="1.35"/>
<circle cx="82.0" cy="375.4" r="0.74"/>
<circle cx="80.0" cy="372.2" r="0.74"/>
<circle cx="50.6" cy="364.0" r="1.81"/>
<circle cx="51.9" cy="363.2" r="1.00"/>
<circle cx="50.4" cy="365.9" r="1.00"/>
<circle cx="71.3" cy="306.8" r="1.77"/>
<circle cx="73.0" cy="305.6" r="0.97"/>
<circle cx="70.4" cy="305.2" r="0.97"/>
<circle cx="101.3" cy="320.1" r="2.05"/>
<circle cx="102.2" cy="318.7" r="1.13"/>
<circle cx="102.6" cy="321.2" r="1.13"/>
<circle cx="46.3" cy="307.3" r="1.56"/>
<circle cx="47.6" cy="306.2" r="0.86"/>
<circle cx="44.9" cy="305.7" r="0.86"/>
<circle cx="98.2" cy="355.6" r="2.25"/>
<circle cx="99.9" cy="357.1" r="1.24"/>
<circle cx="97.5" cy="356.8" r="1.24"/>
<circle cx="67.7" cy="382.2" r="1.88"/>
<circle cx="68.9" cy="380.5" r="1.03"/>
<circle cx="70.2" cy="383.0" r="1.03"/>
<circle cx="93.5" cy="367.8" r="1.59"/>
<circle cx="92.1" cy="366.1" r="0.88"/>
<circle cx="93.4" cy="369.6" r="0.88"/>
<circle cx="98.6" cy="309.9" r="1.53"/>
<circle cx="99.7" cy="310.6" r="0.84"/>
<circle cx="98.2" cy="308.1" r="0.84"/>
</g>
<g fill="#ecc9f6" filter="url(#blur06)" opacity="0.85">
<circle cx="100.4" cy="311.8" r="0.94"/>
<circle cx="90.1" cy="384.7" r="1.33"/>
<circle cx="106.1" cy="316.6" r="0.78"/>
<circle cx="33.0" cy="365.5" r="0.72"/>
<circle cx="30.5" cy="326.1" r="0.79"/>
<circle cx="25.5" cy="340.2" r="1.46"/>
<circle cx="28.3" cy="352.7" r="1.31"/>
<circle cx="104.2" cy="372.9" r="0.77"/>
<circle cx="115.2" cy="339.9" r="1.05"/>
<circle cx="64.6" cy="387.6" r="1.48"/>
<circle cx="31.5" cy="362.6" r="1.11"/>
<circle cx="109.2" cy="321.8" r="1.21"/>
<circle cx="109.2" cy="322.0" r="1.35"/>
<circle cx="28.0" cy="335.6" r="0.74"/>
<circle cx="111.9" cy="326.9" r="1.05"/>
<circle cx="109.5" cy="321.4" r="1.10"/>
<circle cx="61.2" cy="387.5" r="0.90"/>
<circle cx="26.5" cy="351.8" r="1.18"/>
<circle cx="99.9" cy="376.1" r="1.26"/>
<circle cx="65.1" cy="300.4" r="1.50"/>
<circle cx="100.0" cy="375.9" r="0.77"/>
<circle cx="28.6" cy="358.3" r="1.39"/>
<circle cx="94.1" cy="381.9" r="0.78"/>
<circle cx="32.5" cy="322.3" r="0.99"/>
<circle cx="113.3" cy="358.1" r="0.80"/>
<circle cx="74.7" cy="299.7" r="1.17"/>
<circle cx="42.3" cy="309.5" r="1.40"/>
<circle cx="109.2" cy="322.2" r="0.97"/>
<circle cx="101.9" cy="313.1" r="1.04"/>
<circle cx="31.7" cy="366.8" r="0.80"/>
<circle cx="45.5" cy="306.3" r="1.28"/>
<circle cx="116.3" cy="343.8" r="0.95"/>
<circle cx="97.8" cy="307.8" r="1.04"/>
<circle cx="94.3" cy="305.3" r="0.97"/>
<circle cx="65.7" cy="299.4" r="1.27"/>
<circle cx="36.8" cy="313.8" r="0.83"/>
<circle cx="27.6" cy="345.0" r="1.33"/>
<circle cx="76.9" cy="298.7" r="0.73"/>
<circle cx="27.5" cy="333.8" r="0.80"/>
<circle cx="84.2" cy="387.0" r="1.38"/>
<circle cx="74.2" cy="388.6" r="1.22"/>
<circle cx="37.3" cy="373.1" r="0.88"/>
<circle cx="64.4" cy="386.2" r="1.23"/>
<circle cx="31.6" cy="321.5" r="1.10"/>
<circle cx="30.5" cy="361.0" r="1.29"/>
<circle cx="39.7" cy="375.5" r="1.31"/>
<circle cx="28.6" cy="358.8" r="0.75"/>
<circle cx="67.8" cy="388.6" r="0.82"/>
<circle cx="111.3" cy="358.6" r="1.31"/>
<circle cx="105.6" cy="370.9" r="1.05"/>
<circle cx="85.3" cy="301.6" r="1.12"/>
<circle cx="115.4" cy="350.5" r="1.31"/>
<circle cx="38.5" cy="311.8" r="1.19"/>
<circle cx="61.2" cy="299.3" r="1.19"/>
<circle cx="115.8" cy="349.3" r="1.49"/>
<circle cx="83.9" cy="384.8" r="0.97"/>
<circle cx="106.4" cy="369.4" r="0.77"/>
<circle cx="78.8" cy="386.0" r="1.04"/>
<circle cx="56.9" cy="386.2" r="1.01"/>
<circle cx="93.7" cy="382.8" r="1.42"/>
<circle cx="54.5" cy="302.9" r="1.02"/>
<circle cx="28.7" cy="356.9" r="0.72"/>
<circle cx="27.5" cy="355.9" r="1.25"/>
<circle cx="99.4" cy="309.0" r="1.31"/>
<circle cx="102.0" cy="310.5" r="1.33"/>
<circle cx="32.1" cy="366.0" r="1.23"/>
<circle cx="104.1" cy="313.3" r="1.05"/>
<circle cx="86.8" cy="384.5" r="0.90"/>
<circle cx="52.1" cy="302.5" r="0.85"/>
<circle cx="26.6" cy="334.1" r="0.99"/>
</g>
<g fill="#f6ebfb" filter="url(#blur06)">
<circle cx="96" cy="311" r="2.6"/>
<circle cx="99.5" cy="314" r="2.2"/>
<circle cx="102" cy="346" r="2.4"/>
<circle cx="100" cy="351" r="2.0"/>
<circle cx="32" cy="360" r="2.3"/>
<circle cx="64" cy="385" r="2.4"/>
<circle cx="72" cy="383" r="2.0"/>
<circle cx="77" cy="303" r="2.2"/>
<circle cx="58" cy="302" r="2.0"/>
<circle cx="47" cy="330" r="2.0"/>
</g>
<g fill="#f6e6fb" filter="url(#blur06)">
<circle cx="270.5" cy="305.5" r="1.0"/>
<circle cx="278.5" cy="318.1" r="0.9"/>
<circle cx="246.6" cy="332.6" r="1.7"/>
<circle cx="243.8" cy="339.5" r="1.4"/>
<circle cx="262.8" cy="342.6" r="0.9"/>
<circle cx="256.3" cy="347.4" r="1.0"/>
<circle cx="261.8" cy="349.1" r="0.8"/>
<circle cx="266.5" cy="346.5" r="0.8"/>
<circle cx="265.5" cy="353" r="0.9"/>
<circle cx="264.6" cy="358" r="0.8"/>
<circle cx="263.1" cy="375.1" r="0.8"/>
<circle cx="319" cy="341.9" r="0.8"/>
<circle cx="298" cy="381.2" r="0.7"/>
<ellipse cx="324.9" cy="346.3" rx="1.4" ry="3.0"/>
</g>
<g fill="#e9d8fb" filter="url(#blur06)">
<circle cx="192" cy="318.3" r="0.7"/>
<circle cx="193.3" cy="320.3" r="0.7"/>
<circle cx="189" cy="167" r="0.7"/>
<circle cx="159" cy="184" r="0.7"/>
<circle cx="248" cy="138" r="0.7"/>
<circle cx="277" cy="29" r="0.7"/>
<circle cx="166" cy="16" r="0.7"/>
</g>
<text x="57.2" y="116.8" textLength="25.2" lengthAdjust="spacingAndGlyphs" font-family='"Liberation Sans", sans-serif' font-size="15" font-weight="normal" fill="#111" stroke="#111" stroke-width="0.62" word-spacing="1.6">PBS</text>
<text x="149.8" y="115.5" textLength="57.7" lengthAdjust="spacingAndGlyphs" font-family='"Liberation Sans", sans-serif' font-size="15" font-weight="normal" fill="#111" stroke="#111" stroke-width="0.62" word-spacing="1.6">3M GITC</text>
<text x="251.5" y="115.3" textLength="104.7" lengthAdjust="spacingAndGlyphs" font-family='"Liberation Sans", sans-serif' font-size="15" font-weight="normal" fill="#111" stroke="#111" stroke-width="0.62" word-spacing="1.6">0.1M GITC + AS</text>
<text x="19" y="235.5" textLength="104.7" lengthAdjust="spacingAndGlyphs" font-family='"Liberation Sans", sans-serif' font-size="15" font-weight="normal" fill="#111" stroke="#111" stroke-width="0.62" word-spacing="1.6">0.5M GITC + AS</text>
<text x="134.2" y="235.5" textLength="93.4" lengthAdjust="spacingAndGlyphs" font-family='"Liberation Sans", sans-serif' font-size="15" font-weight="normal" fill="#111" stroke="#111" stroke-width="0.62" word-spacing="1.6">1M GITC + AS</text>
<text x="252.5" y="235.5" textLength="93.7" lengthAdjust="spacingAndGlyphs" font-family='"Liberation Sans", sans-serif' font-size="15" font-weight="normal" fill="#111" stroke="#111" stroke-width="0.62" word-spacing="1.6">2M GITC + AS</text>
<text x="51.2" y="409.3" textLength="25.4" lengthAdjust="spacingAndGlyphs" font-family='"Liberation Sans", sans-serif' font-size="15" font-weight="normal" fill="#111" stroke="#111" stroke-width="0.62" word-spacing="1.6">PBS</text>
<text x="147" y="408.2" textLength="58.0" lengthAdjust="spacingAndGlyphs" font-family='"Liberation Sans", sans-serif' font-size="15" font-weight="normal" fill="#111" stroke="#111" stroke-width="0.62" word-spacing="1.6">3M GITC</text>
<text x="252" y="408.6" textLength="105.0" lengthAdjust="spacingAndGlyphs" font-family='"Liberation Sans", sans-serif' font-size="15" font-weight="normal" fill="#111" stroke="#111" stroke-width="0.62" word-spacing="1.6">0.1M GITC + AS</text>
<text x="19" y="533.1" textLength="104.7" lengthAdjust="spacingAndGlyphs" font-family='"Liberation Sans", sans-serif' font-size="15" font-weight="normal" fill="#111" stroke="#111" stroke-width="0.62" word-spacing="1.6">0.5M GITC + AS</text>
<text x="139" y="533.1" textLength="93.6" lengthAdjust="spacingAndGlyphs" font-family='"Liberation Sans", sans-serif' font-size="15" font-weight="normal" fill="#111" stroke="#111" stroke-width="0.62" word-spacing="1.6">1M GITC + AS</text>
<text x="251.5" y="533.1" textLength="93.7" lengthAdjust="spacingAndGlyphs" font-family='"Liberation Sans", sans-serif' font-size="15" font-weight="normal" fill="#111" stroke="#111" stroke-width="0.62" word-spacing="1.6">2M GITC + AS</text>
<text x="4.9" y="13.1" font-family='"Liberation Sans", sans-serif' font-size="17" fill="#000" stroke="#000" stroke-width="0.35">A</text>
<text transform="translate(6.9 298.7) scale(0.8 1)" font-family='"Liberation Sans", sans-serif' font-size="17.6" font-weight="bold" fill="#000">B</text>
<path d="M437 16.25 V189.8 H672.5" fill="none" stroke="#000" stroke-width="1.7"/>
<path d="M432 17 H437" stroke="#000" stroke-width="1.5"/>
<text transform="translate(430.4 22.9) scale(0.92 1)" text-anchor="end" font-family='"Liberation Sans", sans-serif' font-weight="bold" font-size="16.5" fill="#000">15</text>
<path d="M432 74.5 H437" stroke="#000" stroke-width="1.5"/>
<text transform="translate(430.4 80.4) scale(0.92 1)" text-anchor="end" font-family='"Liberation Sans", sans-serif' font-weight="bold" font-size="16.5" fill="#000">10</text>
<path d="M432 132 H437" stroke="#000" stroke-width="1.5"/>
<text transform="translate(430.4 137.9) scale(0.92 1)" text-anchor="end" font-family='"Liberation Sans", sans-serif' font-weight="bold" font-size="16.5" fill="#000">5</text>
<path d="M432 189.5 H437" stroke="#000" stroke-width="1.5"/>
<text transform="translate(430.4 195.4) scale(0.92 1)" text-anchor="end" font-family='"Liberation Sans", sans-serif' font-weight="bold" font-size="16.5" fill="#000">0</text>
<path d="M466 189.8 V193.0" stroke="#000" stroke-width="1.3"/>
<path d="M501.2 189.8 V193.0" stroke="#000" stroke-width="1.3"/>
<path d="M537.2 189.8 V193.0" stroke="#000" stroke-width="1.3"/>
<path d="M571.8 189.8 V193.0" stroke="#000" stroke-width="1.3"/>
<path d="M606.8 189.8 V193.0" stroke="#000" stroke-width="1.3"/>
<path d="M642.2 189.8 V193.0" stroke="#000" stroke-width="1.3"/>
<rect x="455.0" y="72.7" width="23.30000000000001" height="116.35000000000001" fill="#606060"/>
<path d="M460.9 64.3 H472.5 M460.9 81.7 H472.5 M466.7 64.3 V81.7" stroke="#000" stroke-width="1.4" fill="none"/>
<text transform="translate(383.7 172.4) rotate(-90)" textLength="144.0" lengthAdjust="spacingAndGlyphs" font-family='"Liberation Sans", sans-serif' font-weight="bold" font-size="14.3" fill="#000">HSV-1 plaque titre</text>
<text transform="translate(406.0 154.7) rotate(-90)" textLength="107.2" lengthAdjust="spacingAndGlyphs" font-family='"Liberation Sans", sans-serif' font-weight="bold" font-size="14.3" fill="#000">(x10<tspan font-size="10.3" dy="-6.4">6</tspan><tspan dy="6.4">PFU/mL)</tspan></text>
<text x="367" y="212.2" textLength="73.80000000000001" lengthAdjust="spacingAndGlyphs" font-family='"Liberation Sans", sans-serif' font-size="17.3" fill="#000" stroke="#000" stroke-width="0.25">GITC [M]:</text>
<text x="406.5" y="245.3" textLength="35.0" lengthAdjust="spacingAndGlyphs" font-family='"Liberation Sans", sans-serif' font-size="17.3" fill="#000" stroke="#000" stroke-width="0.25">AS :</text>
<path d="M463.3 204.0 H472.3" stroke="#111" stroke-width="1.3"/>
<text x="500.8" y="209.89999999999998" text-anchor="middle" font-family='"Liberation Serif", serif' font-weight="bold" font-size="15.6" fill="#000">3</text>
<text x="538.2" y="209.89999999999998" text-anchor="middle" font-family='"Liberation Serif", serif' font-weight="bold" font-size="15.6" fill="#000">0.1</text>
<text x="575.2" y="209.89999999999998" text-anchor="middle" font-family='"Liberation Serif", serif' font-weight="bold" font-size="15.6" fill="#000">0.5</text>
<text x="609.3" y="209.89999999999998" text-anchor="middle" font-family='"Liberation Serif", serif' font-weight="bold" font-size="15.6" fill="#000">1</text>
<text x="645.5" y="209.89999999999998" text-anchor="middle" font-family='"Liberation Serif", serif' font-weight="bold" font-size="15.6" fill="#000">2</text>
<path d="M463.0 236.5 H472.0" stroke="#111" stroke-width="1.3"/>
<path d="M497.0 236.5 H506.0" stroke="#111" stroke-width="1.3"/>
<path d="M533.8 236.5 H542.2 M538 232.3 V240.7" stroke="#111" stroke-width="1.3"/>
<path d="M566.8 236.5 H575.2 M571 232.3 V240.7" stroke="#111" stroke-width="1.3"/>
<path d="M603.8 236.5 H612.2 M608 232.3 V240.7" stroke="#111" stroke-width="1.3"/>
<path d="M641.3 236.5 H649.7 M645.5 232.3 V240.7" stroke="#111" stroke-width="1.3"/>
<path d="M440 300.05 V479.4 H699" fill="none" stroke="#000" stroke-width="1.7"/>
<path d="M435 300.8 H440" stroke="#000" stroke-width="1.5"/>
<text transform="translate(433.4 306.7) scale(0.92 1)" text-anchor="end" font-family='"Liberation Sans", sans-serif' font-weight="bold" font-size="16.5" fill="#000">10</text>
<path d="M435 336.7 H440" stroke="#000" stroke-width="1.5"/>
<text transform="translate(433.4 342.59999999999997) scale(0.92 1)" text-anchor="end" font-family='"Liberation Sans", sans-serif' font-weight="bold" font-size="16.5" fill="#000">8</text>
<path d="M435 372.5 H440" stroke="#000" stroke-width="1.5"/>
<text transform="translate(433.4 378.4) scale(0.92 1)" text-anchor="end" font-family='"Liberation Sans", sans-serif' font-weight="bold" font-size="16.5" fill="#000">6</text>
<path d="M435 408 H440" stroke="#000" stroke-width="1.5"/>
<text transform="translate(433.4 413.9) scale(0.92 1)" text-anchor="end" font-family='"Liberation Sans", sans-serif' font-weight="bold" font-size="16.5" fill="#000">4</text>
<path d="M435 443.2 H440" stroke="#000" stroke-width="1.5"/>
<text transform="translate(433.4 449.09999999999997) scale(0.92 1)" text-anchor="end" font-family='"Liberation Sans", sans-serif' font-weight="bold" font-size="16.5" fill="#000">2</text>
<path d="M435 479.2 H440" stroke="#000" stroke-width="1.5"/>
<text transform="translate(433.4 485.09999999999997) scale(0.92 1)" text-anchor="end" font-family='"Liberation Sans", sans-serif' font-weight="bold" font-size="16.5" fill="#000">0</text>
<path d="M472.5 479.4 V482.59999999999997" stroke="#000" stroke-width="1.3"/>
<path d="M511.4 479.4 V482.59999999999997" stroke="#000" stroke-width="1.3"/>
<path d="M550 479.4 V482.59999999999997" stroke="#000" stroke-width="1.3"/>
<path d="M588.8 479.4 V482.59999999999997" stroke="#000" stroke-width="1.3"/>
<path d="M627.5 479.4 V482.59999999999997" stroke="#000" stroke-width="1.3"/>
<path d="M666.2 479.4 V482.59999999999997" stroke="#000" stroke-width="1.3"/>
<rect x="460" y="343.8" width="25.80000000000001" height="134.84999999999997" fill="#808080"/>
<rect x="537.5" y="461.3" width="25.5" height="17.349999999999966" fill="#808080"/>
<path d="M465.8 342 H479.40000000000003 M465.8 345.8 H479.40000000000003 M472.6 342 V345.8" stroke="#000" stroke-width="1.4" fill="none"/>
<path d="M544.3 457.2 H556.7 M544.3 466.3 H556.7 M550.5 457.2 V466.3" stroke="#000" stroke-width="1.4" fill="none"/>
<text transform="translate(381.2 457.5) rotate(-90)" textLength="138.8" lengthAdjust="spacingAndGlyphs" font-family='"Liberation Sans", sans-serif' font-weight="bold" font-size="14.3" fill="#000">EV71 plaque titre</text>
<text transform="translate(404.6 444.5) rotate(-90)" textLength="111.6" lengthAdjust="spacingAndGlyphs" font-family='"Liberation Sans", sans-serif' font-weight="bold" font-size="14.3" fill="#000">(x10<tspan font-size="10.3" dy="-6.4">5</tspan><tspan dy="6.4">PFU/mL)</tspan></text>
<text x="372.5" y="510" textLength="74.5" lengthAdjust="spacingAndGlyphs" font-family='"Liberation Sans", sans-serif' font-size="17.3" fill="#000" stroke="#000" stroke-width="0.25">GITC [M]:</text>
<text x="415.8" y="539.5" textLength="32.19999999999999" lengthAdjust="spacingAndGlyphs" font-family='"Liberation Sans", sans-serif' font-size="17.3" fill="#000" stroke="#000" stroke-width="0.25">AS :</text>
<path d="M469.3 500.8 H478.3" stroke="#111" stroke-width="1.3"/>
<text x="514.4" y="506.5" text-anchor="middle" font-family='"Liberation Serif", serif' font-weight="bold" font-size="15.6" fill="#000">3</text>
<text x="552.4" y="506.5" text-anchor="middle" font-family='"Liberation Serif", serif' font-weight="bold" font-size="15.6" fill="#000">0.1</text>
<text x="593.2" y="506.5" text-anchor="middle" font-family='"Liberation Serif", serif' font-weight="bold" font-size="15.6" fill="#000">0.5</text>
<text x="631.3" y="506.5" text-anchor="middle" font-family='"Liberation Serif", serif' font-weight="bold" font-size="15.6" fill="#000">1</text>
<text x="664.2" y="506.5" text-anchor="middle" font-family='"Liberation Serif", serif' font-weight="bold" font-size="15.6" fill="#000">2</text>
<path d="M471.3 532.3000000000001 H480.3" stroke="#111" stroke-width="1.3"/>
<path d="M513.0 532.3000000000001 H522.0" stroke="#111" stroke-width="1.3"/>
<path d="M549.8 532.3000000000001 H558.2 M554 528.1 V536.5000000000001" stroke="#111" stroke-width="1.3"/>
<path d="M591.8 532.3000000000001 H600.2 M596 528.1 V536.5000000000001" stroke="#111" stroke-width="1.3"/>
<path d="M624.5999999999999 532.3000000000001 H633.0 M628.8 528.1 V536.5000000000001" stroke="#111" stroke-width="1.3"/>
<path d="M662.5999999999999 532.3000000000001 H671.0 M666.8 528.1 V536.5000000000001" stroke="#111" stroke-width="1.3"/>
</g>
</svg>
</body></html>
